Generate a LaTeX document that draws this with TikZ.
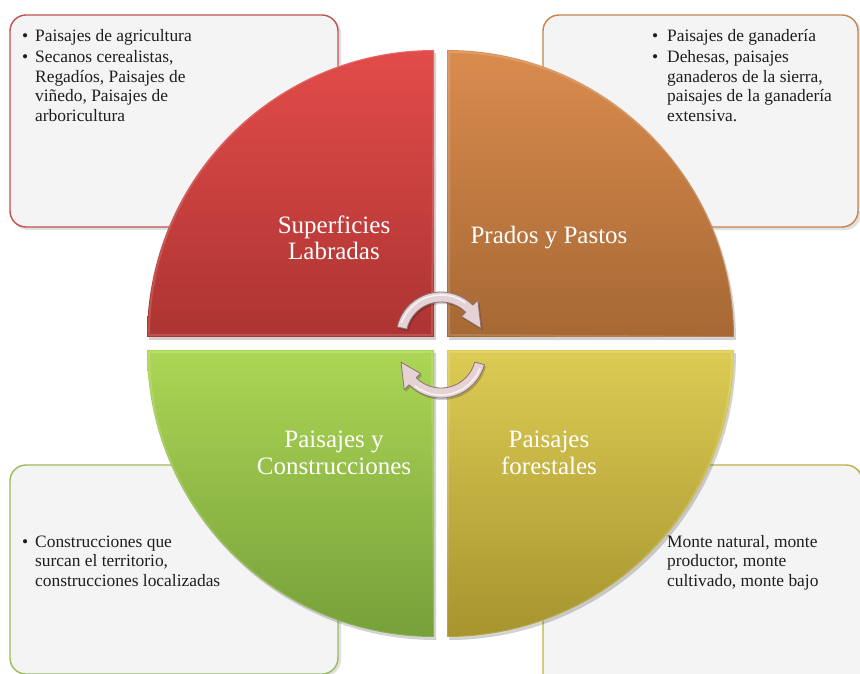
\documentclass[tikz,border=0pt]{standalone}
\usepackage{fontspec}
\setmainfont{Liberation Serif}
\definecolor{redB}{RGB}{192,80,77}
\definecolor{orgB}{RGB}{200,130,75}
\definecolor{grnB}{RGB}{155,187,89}
\definecolor{ylwB}{RGB}{190,175,70}
\definecolor{boxfill}{RGB}{244,244,244}
\definecolor{txt}{RGB}{30,30,30}
\definecolor{cycfill}{RGB}{228,210,212}
\definecolor{cycline}{RGB}{140,112,118}
\definecolor{redT}{RGB}{226,76,74}
\definecolor{redD}{RGB}{172,52,50}
\definecolor{orgT}{RGB}{218,140,78}
\definecolor{orgD}{RGB}{166,104,52}
\definecolor{grnT}{RGB}{172,214,84}
\definecolor{grnD}{RGB}{118,160,58}
\definecolor{ylwT}{RGB}{220,204,84}
\definecolor{ylwD}{RGB}{166,148,46}
\begin{document}
\begin{tikzpicture}[x=1pt,y=1pt,
  box/.style={rounded corners=16pt, fill=boxfill, line width=1.4pt},
  boxshadow/.style={rounded corners=16pt, fill=black, opacity=0.12},
  qshadow/.style={fill=black, opacity=0.18},
  biglabel/.style={text=white, align=center, font=\fontsize{25}{26.5}\selectfont, inner sep=0pt},
  smalltext/.style={anchor=base west, inner sep=0pt, text=txt, font=\fontsize{17.4}{19.5}\selectfont},
  cyc/.style={fill=cycfill, draw=cycline, line width=0.8pt, line join=round},
  hl/.style={draw=white, opacity=0.7, line width=1.6pt, line cap=round}
]
\useasboundingbox (0,0) rectangle (860,673);

% ---- boxes
\fill[boxshadow] (12,443) rectangle (341,656);
\fill[boxshadow] (545,443) rectangle (861,656);
\fill[boxshadow] (12,-3) rectangle (341,206);
\fill[boxshadow] (545,-3) rectangle (866,206);
\draw[box, draw=redB] (10,446) rectangle (338,658);
\draw[box, draw=orgB] (543,446) rectangle (858,658);
\draw[box, draw=grnB] (10,-1) rectangle (338,208);
\draw[box, draw=ylwB] (543,-20) rectangle (862,208);

% ---- box texts
\node[smalltext] (tlt) at (22,631) {\begin{tabular}[t]{@{}l@{}l@{}}
\makebox[13pt][l]{\textbullet} & Paisajes de agricultura\\[1.5pt]
\makebox[13pt][l]{\textbullet} & Secanos cerealistas,\\
 & Regadíos, Paisajes de\\
 & viñedo, Paisajes de\\
 & arboricultura
\end{tabular}};
\node[smalltext] (trt) at (652,631) {\begin{tabular}[t]{@{}l@{}l@{}}
\makebox[15pt][l]{\textbullet} & Paisajes de ganadería\\[1.5pt]
\makebox[15pt][l]{\textbullet} & Dehesas, paisajes\\
 & ganaderos de la sierra,\\
 & paisajes de la ganadería\\
 & extensiva.
\end{tabular}};
\node[smalltext] (blt) at (22,126) {\begin{tabular}[t]{@{}l@{}l@{}}
\makebox[13pt][l]{\textbullet} & Construcciones que\\
 & surcan el territorio,\\
 & construcciones localizadas
\end{tabular}};
\node[smalltext] (brt) at (667,126) {\begin{tabular}[t]{@{}l@{}}
Monte natural, monte\\
productor, monte\\
cultivado, monte bajo
\end{tabular}};

% ---- quadrant shadows
\fill[qshadow] (436,333) -- (149,333) arc[start angle=180,end angle=90,radius=287] -- cycle;
\fill[qshadow] (449,333) -- (449,620) arc[start angle=90,end angle=0,radius=287] -- cycle;
\fill[qshadow] (436,320) -- (149,320) arc[start angle=180,end angle=270,radius=287] -- cycle;
\fill[qshadow] (449,320) -- (736,320) arc[start angle=0,end angle=-90,radius=287] -- cycle;

% ---- quadrants
\shade[top color=redT, bottom color=redD]
  (434,336) -- (147,336) arc[start angle=180,end angle=90,radius=287] -- cycle;
\shade[top color=orgT, bottom color=orgD]
  (447,336) -- (447,623) arc[start angle=90,end angle=0,radius=287] -- cycle;
\shade[top color=grnT, bottom color=grnD]
  (434,323) -- (147,323) arc[start angle=180,end angle=270,radius=287] -- cycle;
\shade[top color=ylwT, bottom color=ylwD]
  (447,323) -- (734,323) arc[start angle=0,end angle=-90,radius=287] -- cycle;
% bevel highlights
\draw[white, opacity=0.15, line width=2pt]
  (432,338) -- (149,338) arc[start angle=180,end angle=90,radius=285] -- cycle;
\draw[white, opacity=0.15, line width=2pt]
  (449,338) -- (449,621) arc[start angle=90,end angle=0,radius=285] -- cycle;
\draw[white, opacity=0.15, line width=2pt]
  (432,321) -- (149,321) arc[start angle=180,end angle=270,radius=285] -- cycle;
\draw[white, opacity=0.15, line width=2pt]
  (449,321) -- (732,321) arc[start angle=0,end angle=-90,radius=285] -- cycle;

% ---- quadrant labels
\node[biglabel] (sl) at (334,435) {Superficies\\Labradas};
\node[biglabel] (pp) at (549,435) {Prados y Pastos};
\node[biglabel] (pc) at (334,220) {Paisajes y\\Construcciones};
\node[biglabel] (pf) at (549,220) {Paisajes\\forestales};

% ---- circular arrows
\begin{scope}[shift={(441,336)}]
  \fill[black, opacity=0.2, shift={(1.5,-2)}]
    (167:45) arc[start angle=167,end angle=45,radius=45] -- (45:52) -- (12:41) -- (45:29) -- (45:35)
    arc[start angle=45,end angle=167,radius=35] -- cycle;
  \path[cyc] (167:45) arc[start angle=167,end angle=45,radius=45] -- (45:52) -- (12:41) -- (45:29) -- (45:35)
    arc[start angle=45,end angle=167,radius=35] -- cycle;
  \draw[hl] (160:42) arc[start angle=160,end angle=55,radius=42];
\end{scope}
\begin{scope}[shift={(441,320)}]
  \fill[black, opacity=0.2, shift={(1.5,-2)}]
    (-15:45) arc[start angle=-15,end angle=-135,radius=45] -- (-135:52) -- (-167:41) -- (-135:29) -- (-135:35)
    arc[start angle=-135,end angle=-15,radius=35] -- cycle;
  \path[cyc] (-15:45) arc[start angle=-15,end angle=-135,radius=45] -- (-135:52) -- (-167:41) -- (-135:29) -- (-135:35)
    arc[start angle=-135,end angle=-15,radius=35] -- cycle;
  \draw[hl] (-22:42) arc[start angle=-22,end angle=-128,radius=42];
\end{scope}
\end{tikzpicture}
\end{document}
